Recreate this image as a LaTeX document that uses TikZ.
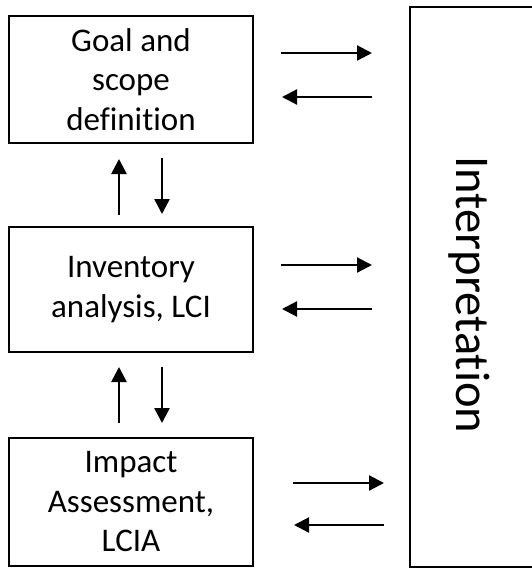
\documentclass[tikz,border=0pt]{standalone}
\usepackage{fontspec}
\setmainfont{Carlito}[Ligatures=NoCommon]
\usetikzlibrary{arrows.meta}
\begin{document}
\begin{tikzpicture}[x=1pt,y=-1pt,
  stagebox/.style={draw=black, line width=2pt, align=center, inner sep=0pt,
    font=\fontsize{33}{39.5}\selectfont},
  arr/.style={line width=2.2pt, -{Triangle[length=15pt,width=15pt]}},
  varr/.style={line width=2.6pt, -{Triangle[length=15pt,width=15pt]}}]
\useasboundingbox (0,0) rectangle (531,568);
\node[stagebox, minimum width=244pt, minimum height=127pt] (goal) at (131,79.5)
  {Goal and\\scope\\definition};
\node[stagebox, minimum width=244pt, minimum height=125pt] (lci) at (131,289.5)
  {Inventory\\analysis, LCI};
\node[stagebox, minimum width=244pt, minimum height=128pt] (lcia) at (131,502)
  {Impact\\Assessment,\\LCIA};
\node[draw=none, minimum width=120pt, minimum height=558pt, inner sep=0pt, outer sep=1pt] (interp) at (471,287) {};
\draw[line width=2pt] (interp.north east) -- (interp.north west) -- (interp.south west) -- (interp.south east);
\node[rotate=-90, anchor=base, inner sep=0pt, font=\fontsize{48.5}{58}\selectfont] (interplabel) at (456,295) {Interpretation};
% horizontal arrows
\draw[arr, shorten <=27pt, shorten >=38pt] (goal.east |- 0,53) -- (interp.west |- 0,53);
\draw[arr, shorten <=38pt, shorten >=28pt] (interp.west |- 0,97) -- (goal.east |- 0,97);
\draw[arr, shorten <=27pt, shorten >=38pt] (lci.east |- 0,265) -- (interp.west |- 0,265);
\draw[arr, shorten <=38pt, shorten >=28pt] (interp.west |- 0,309) -- (lci.east |- 0,309);
\draw[arr, shorten <=39pt, shorten >=26pt] (lcia.east |- 0,483) -- (interp.west |- 0,483);
\draw[arr, shorten <=26pt, shorten >=40pt] (interp.west |- 0,525) -- (lcia.east |- 0,525);
% vertical arrows
\draw[varr, shorten <=11pt, shorten >=15pt] (lci.north -| 119,0) -- (goal.south -| 119,0);
\draw[varr, shorten <=14pt, shorten >=12pt] (goal.south -| 162,0) -- (lci.north -| 162,0);
\draw[varr, shorten <=14pt, shorten >=14pt] (lcia.north -| 119,0) -- (lci.south -| 119,0);
\draw[varr, shorten <=14pt, shorten >=14pt] (lci.south -| 162,0) -- (lcia.north -| 162,0);
\end{tikzpicture}
\end{document}
